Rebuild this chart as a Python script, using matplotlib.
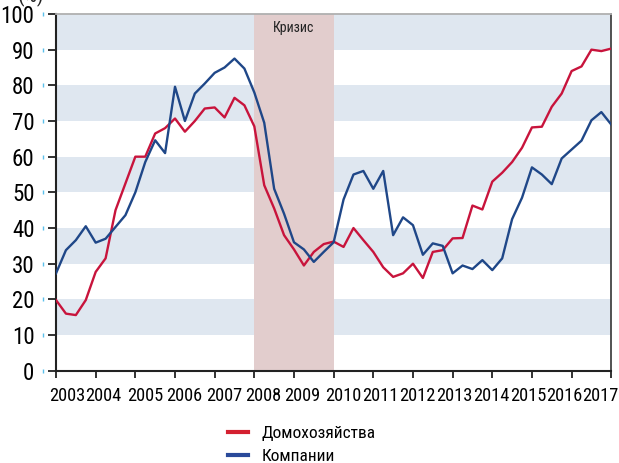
import matplotlib
matplotlib.use("Agg")
import matplotlib.pyplot as plt
from matplotlib import font_manager
from matplotlib.transforms import blended_transform_factory
import numpy as np

# --- DATA (quarterly, 2003Q1 .. 2017Q1, %) ---
years = list(range(2003, 2018))
households = [
    19.8, 16.0, 15.6, 19.8,
    27.7, 31.5, 45.0, 52.5,
    60.0, 60.0, 66.5, 68.0,
    70.7, 67.0, 70.0, 73.5,
    73.8, 71.0, 76.5, 74.4,
    68.5, 52.0, 45.5, 38.0,
    34.0, 29.5, 33.3, 35.5,
    36.2, 34.7, 40.0, 36.6,
    33.3, 29.0, 26.3, 27.3,
    30.0, 26.0, 33.3, 33.8,
    37.1, 37.2, 46.3, 45.2,
    53.0, 55.5, 58.5, 62.5,
    68.2, 68.4, 74.0, 77.7,
    84.0, 85.3, 90.0, 89.6,
    90.3,
]
companies = [
    27.3, 33.8, 36.6, 40.5,
    35.9, 37.0, 40.3, 43.6,
    50.0, 58.5, 64.6, 61.0,
    79.6, 70.0, 77.7, 80.5,
    83.5, 85.0, 87.5, 84.7,
    78.0, 69.5, 51.0, 44.0,
    36.0, 34.0, 30.5, 33.3,
    36.0, 48.0, 55.0, 56.0,
    51.0, 56.0, 38.0, 43.0,
    40.8, 32.5, 35.7, 35.0,
    27.3, 29.5, 28.5, 31.0,
    28.2, 31.5, 42.5, 48.5,
    57.0, 55.0, 52.3, 59.5,
    62.0, 64.5, 70.2, 72.5,
    69.0,
]
crisis_start, crisis_end = 2008, 2010
series_labels = ["Домохозяйства", "Компании"]

t = 2003 + np.arange(len(households)) / 4

# --- FONT: prefer a narrow face ---
available = {f.name for f in font_manager.fontManager.ttflist}
family = "DejaVu Sans"
for name in ["Liberation Sans Narrow", "DejaVu Sans Condensed", "Roboto Condensed",
             "Open Sans Condensed", "Noto Sans Condensed"]:
    if name in available:
        family = name
        break
plt.rcParams["font.family"] = [family, "DejaVu Sans"]
plt.rcParams["font.stretch"] = "condensed"

RED = "#c8143c"
BLUE = "#1f4788"

fig = plt.figure(figsize=(6.19, 4.63), dpi=100)
ax = fig.add_axes([0.0905, 0.1993, 0.897, 0.7705])

# alternating horizontal bands
for lo in range(10, 100, 20):
    ax.axhspan(lo, lo + 10, color="#dfe7f0", lw=0, zorder=0)
ax.axvspan(crisis_start, crisis_end, color="#e2cdcd", lw=0, zorder=1)
ax.text((crisis_start + crisis_end) / 2, 96, "Кризис", ha="center", va="center",
        fontsize=10, color="#222222", zorder=3)

ax.plot(t, households, color=RED, lw=1.7, zorder=4, label=series_labels[0])
ax.plot(t, companies, color=BLUE, lw=1.7, zorder=4, label=series_labels[1])

ax.set_xlim(2003, 2017)
ax.set_ylim(0, 100)

# year ticks without labels; labels go on minor ticks, nudged like the original
ax.set_xticks(years)
ax.set_xticklabels([])
shifts_px = [11, 8, 9.5, 9.5, 10, 9, 8.5, 10, 7, 4.5, 2, -0.5, -3.5, -7, -11]
px_per_year = 0.897 * 619 / 14
label_pos = [y + s / px_per_year for y, s in zip(years, shifts_px)]
ax.set_xticks(label_pos, [str(y) for y in years], minor=True, fontsize=13.2)
ax.tick_params(axis="x", which="major", direction="out", length=5, width=1.3,
               color="#222222")
ax.tick_params(axis="x", which="minor", length=0, pad=12)

ax.set_yticks(range(0, 101, 10))
ax.set_yticklabels([str(v) for v in range(0, 101, 10)], fontsize=16.5)
ax.tick_params(axis="y", direction="out", length=6, width=1.3, color="#222222", pad=9.5)

# small light-blue marks next to the y labels
mark_tr = blended_transform_factory(ax.transAxes, ax.transData)
ax.plot([-0.024] * 11, range(0, 101, 10), ls="none", marker="|", ms=3, mew=1,
        color="#5bc0eb", transform=mark_tr, clip_on=False)

for side in ["left", "bottom"]:
    ax.spines[side].set_color("#222222")
    ax.spines[side].set_linewidth(1.5)
ax.spines["right"].set_color("#444444")
ax.spines["right"].set_linewidth(1.3)
ax.spines["top"].set_color("#b0b0b0")
ax.spines["top"].set_linewidth(1.3)

fig.text(0.029, 0.985, "(%)", fontsize=15, ha="left", va="bottom", color="#222222")

leg = fig.legend(loc="upper left", bbox_to_anchor=(0.355, 0.099), frameon=False,
                 fontsize=12.5, handlelength=1.15, handletextpad=0.75, labelspacing=0.45,
                 borderpad=0)
for line, c in zip(leg.get_lines(), ["#d42030", "#2a4a9a"]):
    line.set_color(c)
    line.set_linewidth(3)

fig.savefig("out.png", dpi=100)
